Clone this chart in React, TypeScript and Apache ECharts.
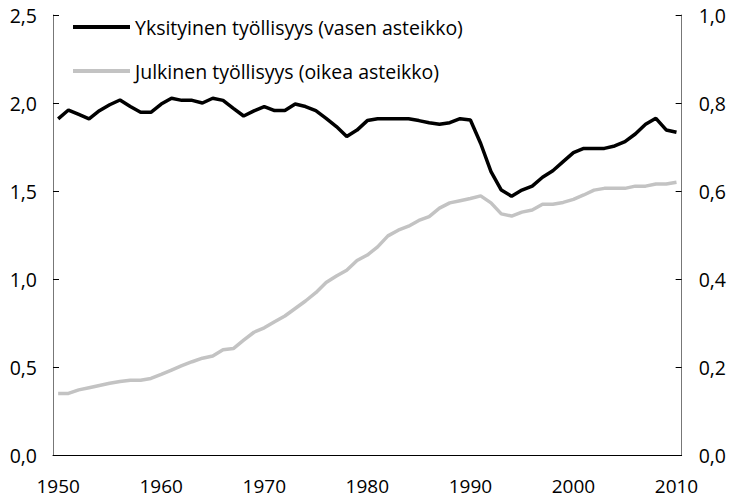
import React, { useEffect, useRef } from "react";
import * as echarts from "echarts";

const years: string[] = [];
for (let y = 1950; y <= 2010; y++) years.push(String(y));

const privateEmployment = [
  1.91, 1.96, 1.935, 1.91, 1.956, 1.99, 2.017, 1.98, 1.947, 1.947,
  1.994, 2.027, 2.015, 2.015, 2.0, 2.027, 2.015, 1.97, 1.926, 1.955,
  1.98, 1.957, 1.957, 1.994, 1.98, 1.957, 1.913, 1.866, 1.81, 1.846,
  1.9, 1.91, 1.91, 1.91, 1.91, 1.9, 1.888, 1.879, 1.888, 1.911,
  1.903, 1.77, 1.61, 1.505, 1.47, 1.505, 1.528, 1.578, 1.615, 1.667,
  1.718, 1.742, 1.742, 1.742, 1.756, 1.78, 1.824, 1.879, 1.913, 1.847,
  1.834,
];

const publicEmployment = [
  0.14, 0.14, 0.148, 0.153, 0.158, 0.163, 0.167, 0.17, 0.17, 0.174,
  0.183, 0.193, 0.203, 0.212, 0.22, 0.225, 0.239, 0.242, 0.261, 0.279,
  0.289, 0.303, 0.316, 0.333, 0.35, 0.369, 0.392, 0.407, 0.42, 0.442,
  0.4545, 0.473, 0.498, 0.511, 0.52, 0.533, 0.542, 0.561, 0.573, 0.578,
  0.583, 0.589, 0.573, 0.548, 0.543, 0.552, 0.557, 0.57, 0.57, 0.574,
  0.581, 0.591, 0.602, 0.606, 0.606, 0.606, 0.611, 0.611, 0.616, 0.616,
  0.62,
];

const seriesNames = [
  "Yksityinen työllisyys (vasen asteikko)",
  "Julkinen työllisyys (oikea asteikko)",
];

const FONT = "Open Sans";
const fmt = (v: number) => v.toFixed(1).replace(".", ",");

export default function App() {
  const ref = useRef<HTMLDivElement>(null);
  useEffect(() => {
    if (!ref.current) return;
    const chart = echarts.init(ref.current, undefined, { renderer: "svg" });
    chart.setOption({
      animation: false,
      backgroundColor: "#ffffff",
      textStyle: { fontFamily: FONT },
      grid: { left: 53, right: 46, top: 15, bottom: 45, containLabel: false },
      legend: {
        orient: "vertical",
        left: 68,
        top: 11,
        itemWidth: 57,
        itemHeight: 4,
        itemGap: 22,
        icon: "rect",
        textStyle: { fontFamily: FONT, fontSize: 19.5, color: "#000", lineHeight: 22 },
        data: seriesNames,
      },
      xAxis: {
        type: "category",
        data: years,
        boundaryGap: true,
        axisLine: { lineStyle: { color: "#000", width: 1 } },
        axisTick: { inside: true, length: 5, interval: 0, lineStyle: { color: "#000" } },
        axisLabel: {
          interval: 9,
          margin: 21,
          fontFamily: FONT,
          fontSize: 19,
          lineHeight: 20,
          color: "#000",
        },
        splitLine: { show: false },
      },
      yAxis: [
        {
          type: "value",
          min: 0,
          max: 2.5,
          interval: 0.5,
          position: "left",
          axisLine: { show: true, lineStyle: { color: "#777", width: 1 } },
          axisTick: { show: true, inside: true, length: 6, lineStyle: { color: "#000" } },
          axisLabel: {
            margin: 16,
            fontFamily: FONT,
            fontSize: 19.5,
            color: "#000",
            padding: [8, 0, 0, 0],
            formatter: fmt,
          },
          splitLine: { show: false },
        },
        {
          type: "value",
          min: 0,
          max: 1,
          interval: 0.2,
          position: "right",
          axisLine: { show: true, lineStyle: { color: "#777", width: 1 } },
          axisTick: { show: true, inside: true, length: 6, lineStyle: { color: "#000" } },
          axisLabel: {
            margin: 17,
            fontFamily: FONT,
            fontSize: 19.5,
            color: "#000",
            padding: [8, 0, 0, 0],
            formatter: fmt,
          },
          splitLine: { show: false },
        },
      ],
      series: [
        {
          name: seriesNames[0],
          type: "line",
          yAxisIndex: 0,
          data: privateEmployment,
          showSymbol: false,
          symbol: "none",
          lineStyle: { color: "#000000", width: 3.5 },
          itemStyle: { color: "#000000" },
        },
        {
          name: seriesNames[1],
          type: "line",
          yAxisIndex: 1,
          data: publicEmployment,
          showSymbol: false,
          symbol: "none",
          lineStyle: { color: "#c3c3c3", width: 3.5 },
          itemStyle: { color: "#c3c3c3" },
        },
      ],
    });
    return () => chart.dispose();
  }, []);
  return (
    <div
      ref={ref}
      style={{ position: "fixed", left: 0, top: 0, width: 729, height: 500, background: "#fff" }}
    />
  );
}
